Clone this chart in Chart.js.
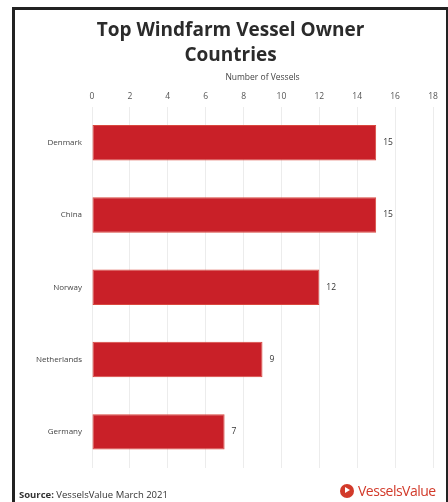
<!DOCTYPE html>
<html>
<head>
    <meta charset="UTF-8">
    <title>Top Windfarm Vessel Owner Countries</title>
    <script src="https://cdn.jsdelivr.net/npm/chart.js"></script>
    <style>
        body {
            margin: 0;
            background-color: #fff;
            font-family: "Open Sans", Arial, sans-serif;
        }

        .frame {
            position: absolute;
            left: 12px;
            top: 7px;
            width: 431px;
            height: 510px;
            border: 3px solid #222;
        }

        .chart-box {
            position: absolute;
            left: 0;
            top: 0;
            width: 448px;
            height: 502px;
        }

        .source {
            position: absolute;
            left: 19px;
            top: 488px;
            font-size: 9.5px;
            color: #333;
        }

        .logo {
            position: absolute;
            left: 340px;
            top: 481px;
            font-size: 14px;
            color: #d23a2a;
            letter-spacing: -0.5px;
            display: flex;
            align-items: center;
        }

        .logo .dot {
            width: 14px;
            height: 14px;
            border-radius: 50%;
            background: #d23a2a;
            margin-right: 4px;
            position: relative;
        }

        .logo .dot:after {
            content: "";
            position: absolute;
            left: 5px;
            top: 3.5px;
            border-left: 5px solid #fff;
            border-top: 3.5px solid transparent;
            border-bottom: 3.5px solid transparent;
        }
    </style>
</head>
<body>
    <div class="frame"></div>
    <div class="chart-box">
        <canvas id="vesselChart" width="448" height="502"></canvas>
    </div>
    <div class="source"><b>Source:</b> VesselsValue March 2021</div>
    <div class="logo"><span class="dot"></span>VesselsValue</div>

    <script>
        // chart data
        var countries = ['Denmark', 'China', 'Norway', 'Netherlands', 'Germany'];
        var vessels = [15, 15, 12, 9, 7];
        var axisMax = 18;

        // write the value just right of each bar
        var valueLabels = {
            id: 'valueLabels',
            afterDatasetsDraw: function (chart) {
                var ctx = chart.ctx;
                var meta = chart.getDatasetMeta(0);
                ctx.save();
                ctx.font = '8.5px "Open Sans", Arial, sans-serif';
                ctx.fillStyle = '#333';
                ctx.textAlign = 'left';
                ctx.textBaseline = 'middle';
                meta.data.forEach(function (bar, i) {
                    ctx.fillText(vessels[i], bar.x + 7, bar.y);
                });
                ctx.restore();
            }
        };

        var ctx = document.getElementById('vesselChart').getContext('2d');
        var vesselChart = new Chart(ctx, {
            type: 'bar',
            data: {
                labels: countries,
                datasets: [{
                    label: 'Number of Vessels',
                    data: vessels,
                    backgroundColor: '#c92028',
                    borderColor: '#d9483f',
                    borderWidth: 1,
                    borderSkipped: false,
                    barPercentage: 0.49,
                    categoryPercentage: 1
                }]
            },
            options: {
                indexAxis: 'y',
                responsive: false,
                animation: false,
                layout: {
                    padding: { top: 18, right: 15, bottom: 34, left: 28 }
                },
                plugins: {
                    legend: { display: false },
                    tooltip: { enabled: false },
                    title: {
                        display: true,
                        text: ['Top Windfarm Vessel Owner', 'Countries'],
                        color: '#2b2b2b',
                        font: { family: '"Open Sans", Arial, sans-serif', size: 19, weight: 'bold', lineHeight: 1.32 },
                        padding: { top: 0, bottom: 4 }
                    }
                },
                scales: {
                    x: {
                        position: 'top',
                        min: 0,
                        max: axisMax,
                        ticks: {
                            stepSize: 2,
                            color: '#555',
                            font: { family: '"Open Sans", Arial, sans-serif', size: 8.5 },
                            padding: 5
                        },
                        title: {
                            display: true,
                            text: 'Number of Vessels',
                            color: '#444',
                            font: { family: '"Open Sans", Arial, sans-serif', size: 8.5 },
                            padding: { top: 0, bottom: 4 }
                        },
                        grid: {
                            color: '#ececec',
                            drawTicks: false
                        },
                        border: { display: false }
                    },
                    y: {
                        ticks: {
                            color: '#444',
                            font: { family: '"Open Sans", Arial, sans-serif', size: 8 },
                            padding: 2
                        },
                        grid: { display: false },
                        border: { display: false },
                        afterFit: function (scale) {
                            scale.width = 64;
                        }
                    }
                }
            },
            plugins: [valueLabels]
        });
    </script>
</body>
</html>
